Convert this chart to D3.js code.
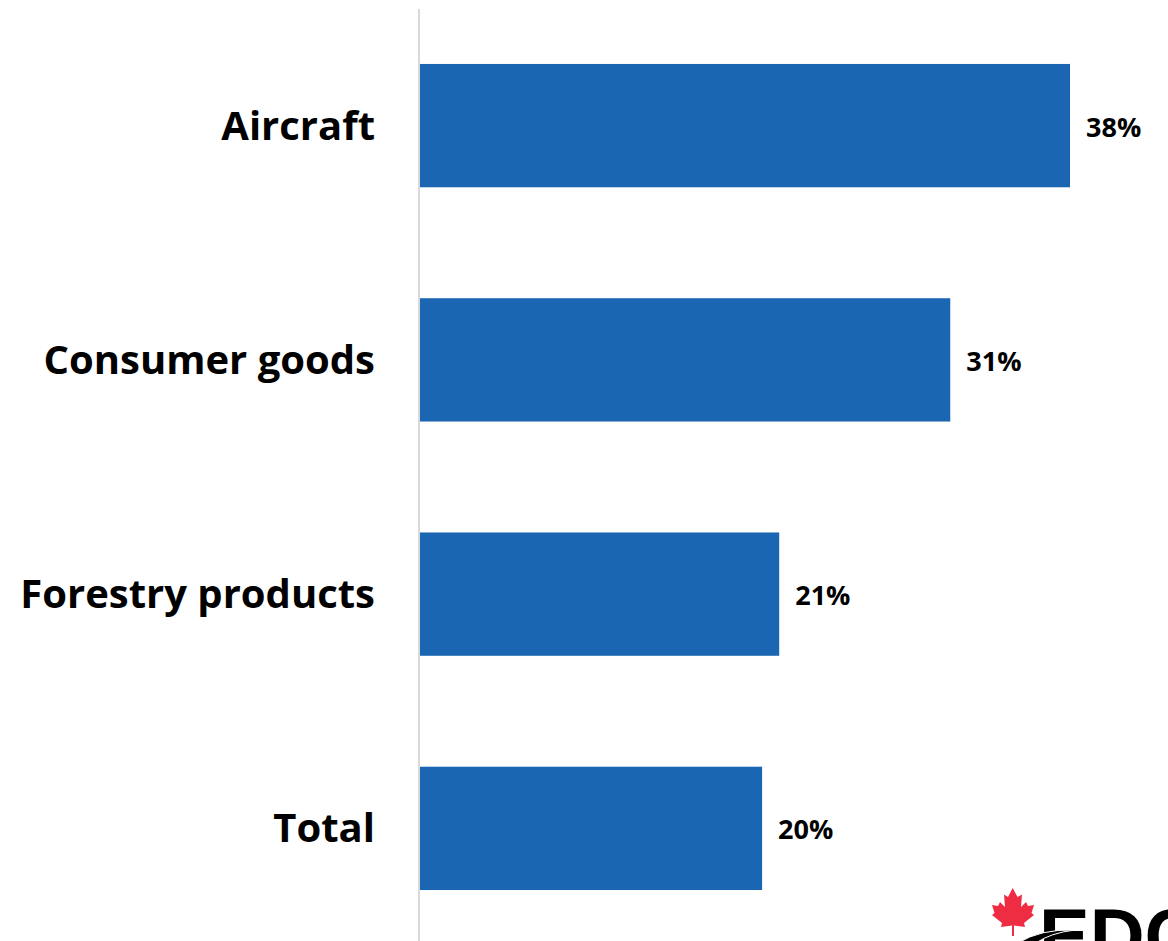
<!DOCTYPE html>
<html>
<head>
<meta charset="utf-8">
<script src="https://cdn.jsdelivr.net/npm/d3@7"></script>
<style>
  html, body { margin: 0; padding: 0; background: #fff; overflow: hidden; }
  text { font-family: "Open Sans", "Noto Sans", sans-serif; font-weight: 700; fill: #000; }
</style>
</head>
<body>
<svg id="chart" width="1168" height="941"></svg>
<script>
const categories = ["Aircraft", "Consumer goods", "Forestry products", "Total"];
const shares = [38, 31, 21, 20];

const svg = d3.select("#chart");
const axisX = 420;

const x = d3.scaleLinear().domain([0, 38]).range([axisX, axisX + 650]);
const y = d3.scaleBand().domain(categories).range([8.5, 945.5]).paddingInner(0.4736).paddingOuter(0.2368);

// Baseline
svg.append("line")
  .attr("x1", axisX - 1).attr("x2", axisX - 1)
  .attr("y1", 9).attr("y2", 941)
  .attr("stroke", "#d9d9d9").attr("stroke-width", 2);

// Bars
svg.selectAll("rect.bar").data(categories).join("rect")
  .attr("class", "bar")
  .attr("x", axisX)
  .attr("y", d => y(d))
  .attr("width", (d, i) => x(shares[i]) - axisX)
  .attr("height", y.bandwidth())
  .attr("fill", "#1a66b2");

// Category labels
svg.selectAll("text.cat").data(categories).join("text")
  .attr("class", "cat")
  .attr("x", 375)
  .attr("y", d => y(d) + y.bandwidth() / 2 + 14)
  .attr("text-anchor", "end")
  .attr("font-size", 40)
  .text(d => d);

// Value labels
svg.selectAll("text.val").data(categories).join("text")
  .attr("class", "val")
  .attr("x", (d, i) => x(shares[i]) + 16)
  .attr("y", d => y(d) + y.bandwidth() / 2 + 11)
  .attr("font-size", 27)
  .text((d, i) => shares[i] + "%");

// Corporate mark in the lower right corner
const logo = svg.append("g");
logo.append("path")
  .attr("fill", "#ee2d42")
  .attr("d", "M1012.7 888 L1017.5 897 L1022 894.5 L1021 907 L1026 902 L1028 906 L1034 905 L1031.5 913 L1034 915 L1024 923 L1025 927 L1014 925.5 L1014 936 L1012 936 L1012 925.5 L1001 927 L1002 923 L992 915 L994.5 913 L992 905 L998 906 L1000 902 L1005 907 L1004 894.5 L1008 897 Z");
logo.append("text")
  .attr("x", 1039).attr("y", 962)
  .attr("font-size", 76)
  .style("font-family", "'Liberation Sans', sans-serif")
  .style("font-weight", 700)
  .text("EDC");
logo.append("path")
  .attr("fill", "#000")
  .attr("stroke", "#fff")
  .attr("stroke-width", 1)
  .attr("d", "M1018 943 Q1040 929 1075 930 Q1050 933 1036 943 Z");
</script>
</body>
</html>
